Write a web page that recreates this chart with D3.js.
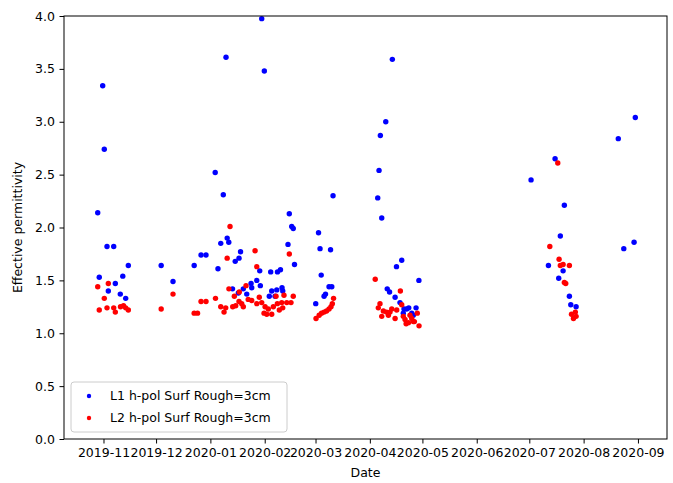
<!DOCTYPE html>
<html>
<head>
<meta charset="utf-8">
<script src="https://d3js.org/d3.v7.min.js"></script>
<style>
  body { margin: 0; background: #fff; }
  text { font-family: "DejaVu Sans", sans-serif; }
</style>
</head>
<body>
<div id="chart"></div>
<script>
// L1 h-pol, surface roughness 3cm : [date, effective permittivity]
var l1 = [
  ["2019-10-28 17", 2.14], ["2019-10-29 14", 1.53], ["2019-10-31 13", 3.34], ["2019-11-01 11", 2.74],
  ["2019-11-03", 1.82], ["2019-11-03 18", 1.40], ["2019-11-06 20", 1.82], ["2019-11-07 18", 1.47],
  ["2019-11-10 14", 1.37], ["2019-11-12", 1.54], ["2019-11-13 16", 1.33], ["2019-11-15 04", 1.64],
  ["2019-12-03 22", 1.64], ["2019-12-10 16", 1.49], ["2019-12-22 18", 1.64], ["2019-12-26 16", 1.74],
  ["2019-12-29 12", 1.74], ["2020-01-03 18", 2.52], ["2020-01-05 08", 1.61], ["2020-01-06 22", 1.85],
  ["2020-01-08 09", 2.31], ["2020-01-09 22", 3.61], ["2020-01-10 14", 1.90], ["2020-01-11 12", 1.86],
  ["2020-01-13 15", 1.42], ["2020-01-15 04", 1.68], ["2020-01-16 23", 1.38], ["2020-01-17 08", 1.71],
  ["2020-01-18 05", 1.77], ["2020-01-19 19", 1.42], ["2020-01-21 18", 1.37], ["2020-01-24 05", 1.47],
  ["2020-01-24 14", 1.43], ["2020-01-27 11", 1.50], ["2020-01-29 04", 1.59], ["2020-01-29 12", 1.45],
  ["2020-01-30 07", 3.975], ["2020-01-31 19", 3.48], ["2020-02-03 15", 1.35], ["2020-02-04 10", 1.58],
  ["2020-02-05", 1.40], ["2020-02-06 22", 1.35], ["2020-02-07 21", 1.41], ["2020-02-08 07", 1.58],
  ["2020-02-10", 1.60], ["2020-02-10 21", 1.43], ["2020-02-11 07", 1.40], ["2020-02-14 07", 1.84],
  ["2020-02-15 01", 2.13], ["2020-02-16 10", 2.01], ["2020-02-17 07", 1.99], ["2020-02-18", 1.65],
  ["2020-03-01 03", 1.28], ["2020-03-02 17", 1.95], ["2020-03-03 14", 1.80], ["2020-03-04 06", 1.55],
  ["2020-03-05 21", 1.35], ["2020-03-06 17", 1.37], ["2020-03-08 17", 1.44], ["2020-03-09 14", 1.79],
  ["2020-03-10 07", 1.44], ["2020-03-11", 2.30],
  ["2020-04-05 12", 2.28], ["2020-04-06 06", 2.54], ["2020-04-07", 2.87], ["2020-04-07 19", 2.09],
  ["2020-04-10 02", 3.00], ["2020-04-10 22", 1.42], ["2020-04-12 06", 1.39], ["2020-04-13 20", 3.59],
  ["2020-04-15 10", 1.34], ["2020-04-16 05", 1.63], ["2020-04-18 05", 1.29], ["2020-04-19 05", 1.69],
  ["2020-04-20 02", 1.19], ["2020-04-20 12", 1.23], ["2020-04-22 01", 1.23], ["2020-04-23 05", 1.24],
  ["2020-04-24 22", 1.19], ["2020-04-25 19", 1.17], ["2020-04-27 09", 1.24], ["2020-04-29", 1.50],
  ["2020-07-02", 2.45], ["2020-07-11 22", 1.64], ["2020-07-15 17", 2.65], ["2020-07-17 19", 1.52],
  ["2020-07-18 17", 1.92], ["2020-07-20 07", 1.59], ["2020-07-21", 2.21], ["2020-07-23 21", 1.35],
  ["2020-07-24 16", 1.27], ["2020-07-27 17", 1.25], ["2020-08-20 19", 2.84], ["2020-08-23 22", 1.80],
  ["2020-08-29 19", 1.86], ["2020-08-30 12", 3.04]
];

// L2 h-pol, surface roughness 3cm
var l2 = [
  ["2019-10-28 17", 1.44], ["2019-10-29 14", 1.22], ["2019-11-01 11", 1.33], ["2019-11-03", 1.24],
  ["2019-11-03 18", 1.47], ["2019-11-06 20", 1.24], ["2019-11-07 18", 1.20], ["2019-11-10 17", 1.25],
  ["2019-11-12 10", 1.26], ["2019-11-13 16", 1.24], ["2019-11-15 04", 1.22], ["2019-12-03 22", 1.23],
  ["2019-12-10 16", 1.37], ["2019-12-22 18", 1.19], ["2019-12-24 16", 1.19], ["2019-12-26 16", 1.30],
  ["2019-12-29 12", 1.30], ["2020-01-03 22", 1.33], ["2020-01-06 22", 1.25], ["2020-01-08 19", 1.20],
  ["2020-01-09 18", 1.24], ["2020-01-10 14", 1.71], ["2020-01-11 14", 1.42], ["2020-01-12 05", 2.01],
  ["2020-01-13 18", 1.25], ["2020-01-14 16", 1.35], ["2020-01-15 11", 1.26], ["2020-01-17 08", 1.30],
  ["2020-01-17 12", 1.39], ["2020-01-18 21", 1.28], ["2020-01-19 19", 1.25], ["2020-01-21 08", 1.45],
  ["2020-01-22 14", 1.32], ["2020-01-24 14", 1.31], ["2020-01-26 12", 1.78], ["2020-01-27 11", 1.63],
  ["2020-01-27 11", 1.28], ["2020-01-28 22", 1.34], ["2020-01-30 07", 1.29], ["2020-01-31 15", 1.19],
  ["2020-02-01 05", 1.25], ["2020-02-02 04", 1.18], ["2020-02-03 01", 1.23], ["2020-02-05", 1.18],
  ["2020-02-05 22", 1.25], ["2020-02-07 11", 1.35], ["2020-02-08 05", 1.28], ["2020-02-09 08", 1.22],
  ["2020-02-10 17", 1.29], ["2020-02-11 07", 1.24], ["2020-02-12", 1.36], ["2020-02-13 14", 1.29],
  ["2020-02-15 01", 1.75], ["2020-02-16", 1.29], ["2020-02-17 07", 1.35],
  ["2020-03-01 07", 1.14], ["2020-03-03 02", 1.17], ["2020-03-04 10", 1.19], ["2020-03-05 21", 1.20],
  ["2020-03-07 07", 1.21], ["2020-03-08 17", 1.23], ["2020-03-09 20", 1.25], ["2020-03-10 14", 1.28],
  ["2020-03-11 07", 1.33],
  ["2020-04-04 02", 1.51], ["2020-04-05 20", 1.24], ["2020-04-06 19", 1.28], ["2020-04-07 19", 1.16],
  ["2020-04-08 17", 1.21], ["2020-04-10 12", 1.20], ["2020-04-11 14", 1.17], ["2020-04-12 12", 1.20],
  ["2020-04-13 12", 1.23], ["2020-04-15 10", 1.14], ["2020-04-16 08", 1.22], ["2020-04-18 10", 1.40],
  ["2020-04-19 05", 1.27], ["2020-04-20 02", 1.16], ["2020-04-21 02", 1.13], ["2020-04-21 17", 1.09],
  ["2020-04-23", 1.10], ["2020-04-23 22", 1.17], ["2020-04-24 22", 1.14], ["2020-04-25 19", 1.11],
  ["2020-04-26 10", 1.11], ["2020-04-28 02", 1.19], ["2020-04-29 02", 1.07],
  ["2020-07-12 17", 1.82], ["2020-07-17 06", 2.61], ["2020-07-18", 1.70], ["2020-07-18 17", 1.64],
  ["2020-07-20 07", 1.65], ["2020-07-21", 1.48], ["2020-07-21 19", 1.47], ["2020-07-23 21", 1.64],
  ["2020-07-25 02", 1.18], ["2020-07-26 05", 1.14], ["2020-07-27 07", 1.20], ["2020-07-27 17", 1.16]
];

var seriesNames = ["L1 h-pol Surf Rough=3cm", "L2 h-pol Surf Rough=3cm"];
var seriesColors = ["#0000ff", "#ff0000"];
var xTickLabels = ["2019-11", "2019-12", "2020-01", "2020-02", "2020-03", "2020-04",
                   "2020-05", "2020-06", "2020-07", "2020-08", "2020-09"];
var yTicks = [0.0, 0.5, 1.0, 1.5, 2.0, 2.5, 3.0, 3.5, 4.0];
var xDomain = ["2019-10-09 11", "2020-09-17 14"];

var parseDate = function(s) {
  return (s.length > 10 ? d3.timeParse("%Y-%m-%d %H") : d3.timeParse("%Y-%m-%d"))(s);
};
var parseMonth = d3.timeParse("%Y-%m");

var W = 673, H = 483;
var margin = {top: 16, right: 6, bottom: 44, left: 64},
    width = W - margin.left - margin.right,
    height = H - margin.top - margin.bottom;

var svg = d3.select("#chart").append("svg")
    .attr("width", W)
    .attr("height", H);

var g = svg.append("g")
    .attr("transform", "translate(" + margin.left + "," + margin.top + ")");

var x = d3.scaleTime().domain(xDomain.map(parseDate)).range([0, width]);
var y = d3.scaleLinear().domain([0, 4]).range([height, 0]);

// points
[l1, l2].forEach(function(series, i) {
  g.append("g")
    .selectAll("circle")
    .data(series)
    .enter()
    .append("circle")
      .attr("cx", function(d) { return x(parseDate(d[0])); })
      .attr("cy", function(d) { return y(d[1]); })
      .attr("r", 2.7)
      .attr("fill", seriesColors[i]);
});

// axes
var xAxis = g.append("g")
    .attr("transform", "translate(0," + height + ")")
    .call(d3.axisBottom(x)
      .tickValues(xTickLabels.map(parseMonth))
      .tickFormat(d3.timeFormat("%Y-%m"))
      .tickSizeInner(4.5).tickSizeOuter(0).tickPadding(4.5));

var yAxis = g.append("g")
    .call(d3.axisLeft(y)
      .tickValues(yTicks)
      .tickFormat(d3.format(".1f"))
      .tickSizeInner(4.5).tickSizeOuter(0).tickPadding(4.5));

[xAxis, yAxis].forEach(function(a) {
  a.selectAll("text").attr("font-size", "12.5px").attr("fill", "#000")
    .attr("font-family", "DejaVu Sans, sans-serif");
  a.selectAll("line").attr("stroke", "#000").attr("stroke-width", 1);
  a.select(".domain").remove();
});

// frame
g.append("rect")
    .attr("x", 0).attr("y", 0)
    .attr("width", width).attr("height", height)
    .attr("fill", "none")
    .attr("stroke", "#000")
    .attr("stroke-width", 1);

// axis labels
svg.append("text")
    .attr("x", margin.left + width / 2)
    .attr("y", H - 6)
    .attr("text-anchor", "middle")
    .attr("font-size", "12.5px")
    .text("Date");

svg.append("text")
    .attr("transform", "translate(22," + (margin.top + height / 2) + ") rotate(-90)")
    .attr("text-anchor", "middle")
    .attr("font-size", "12.5px")
    .text("Effective permittivity");

// legend
var legend = g.append("g").attr("transform", "translate(7," + (height - 57) + ")");
legend.append("rect")
    .attr("width", 216).attr("height", 50)
    .attr("rx", 3).attr("ry", 3)
    .attr("fill", "#fff").attr("fill-opacity", 0.8)
    .attr("stroke", "#cccccc").attr("stroke-width", 1);

seriesNames.forEach(function(name, i) {
  var row = legend.append("g").attr("transform", "translate(0," + (14 + i * 22) + ")");
  row.append("circle")
    .attr("cx", 18).attr("cy", 0).attr("r", 2.2)
    .attr("fill", seriesColors[i]);
  row.append("text")
    .attr("x", 39).attr("y", 0).attr("dy", "0.35em")
    .attr("font-size", "12.5px")
    .text(name);
});
</script>
</body>
</html>
